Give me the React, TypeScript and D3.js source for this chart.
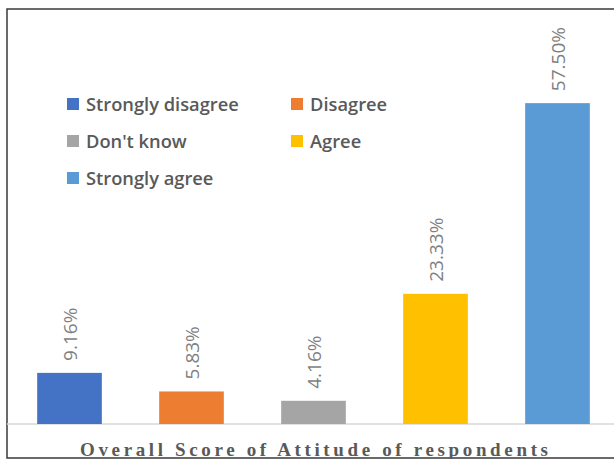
import React from "react";
import * as d3 from "d3";

const categories = ["Strongly disagree", "Disagree", "Don't know", "Agree", "Strongly agree"];
const values = [9.16, 5.83, 4.16, 23.33, 57.5];
const labels = ["9.16%", "5.83%", "4.16%", "23.33%", "57.50%"];
const colors = ["#4472C4", "#ED7D31", "#A5A5A5", "#FFC000", "#5B9BD5"];
const title = "Overall Score of Attitude of respondents";

export default function App() {
  const W = 614, H = 459;
  const baseY = 424;
  const x = d3.scaleBand<string>().domain(categories).range([8.5, 618.5]).paddingInner(0.47).paddingOuter(0.235);
  const y = d3.scaleLinear().domain([0, 60]).range([baseY, 89.2]);
  const legendPos = [
    { x: 67, y: 104 },
    { x: 291, y: 104 },
    { x: 67, y: 141 },
    { x: 291, y: 141 },
    { x: 67, y: 178 },
  ];
  return (
    <svg width={W} height={H} style={{ position: "absolute", left: 0, top: 0, background: "#fff" }}>
      <rect x={0} y={0} width={W} height={H} fill="#fff" />
      <rect x={7} y={9} width={620} height={449} fill="#fff" stroke="#3a3a3a" strokeWidth={1.5} />
      <line x1={7} x2={W} y1={baseY} y2={baseY} stroke="#d9d9d9" strokeWidth={1.5} />
      {categories.map((c, i) => {
        const bx = x(c)!;
        const cx = bx + x.bandwidth() / 2;
        const top = y(values[i]);
        return (
          <g key={c}>
            <rect x={bx} y={top} width={x.bandwidth()} height={baseY - top} fill={colors[i]} />
            <text
              transform={`translate(${cx + 7},${top - 12}) rotate(-90)`}
              fontFamily="'Open Sans', sans-serif"
              fontSize={19}
              fill="#7f7f7f"
            >
              {labels[i]}
            </text>
          </g>
        );
      })}
      {categories.map((c, i) => (
        <g key={"lg" + c}>
          <rect x={legendPos[i].x} y={legendPos[i].y - 6} width={12} height={12} fill={colors[i]} />
          <text
            x={legendPos[i].x + 19}
            y={legendPos[i].y + 7}
            fontFamily="'Open Sans', sans-serif"
            fontWeight={600}
            fontSize={18.3}
            fill="#595959"
          >
            {c}
          </text>
        </g>
      ))}
      <text
        x={80}
        y={456}
        textLength={468}
        lengthAdjust="spacing"
        fontFamily="'Liberation Serif', serif"
        fontWeight="bold"
        fontSize={19}
        fill="#595959"
      >
        {title}
      </text>
    </svg>
  );
}
